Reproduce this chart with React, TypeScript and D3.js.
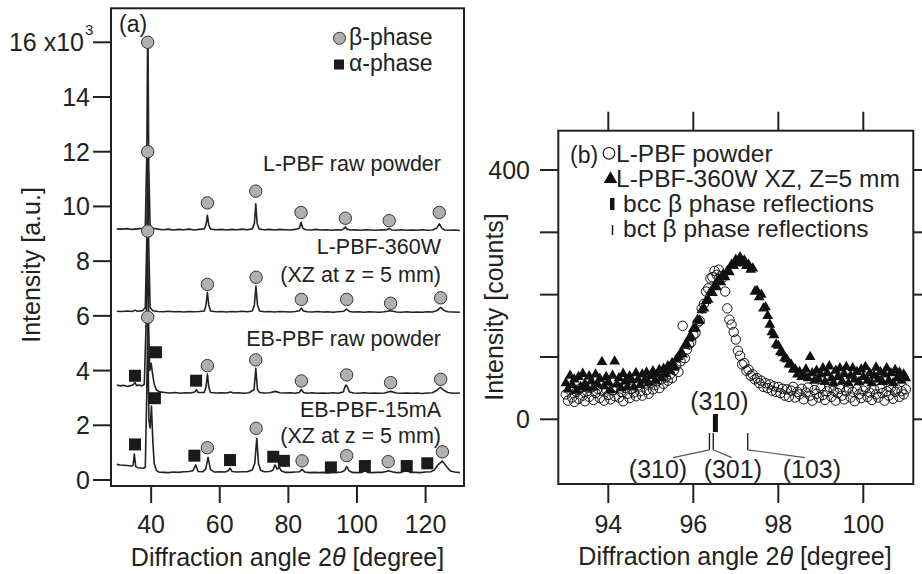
import React from 'react';
import * as d3 from 'd3';

const FONT = "'Liberation Sans', Arial, Helvetica, sans-serif";
const INK = '#222';

// ---------------- Panel (a) data ----------------
const aXTicks = [40, 60, 80, 100, 120];
const aYTicks = [0, 2, 4, 6, 8, 10, 12, 14];
const aYTopLabel = '16 x10';

type P = [number, number];

const lpbfRawPowder: P[] = [[30,9.18],[31.5,9.17],[33,9.19],[34.5,9.16],[36,9.18],[37.5,9.2],[38.3,9.27],[38.75,12.0],[38.95,15.8],[39.1,15.8],[39.3,11.5],[39.7,9.3],[40.5,9.2],[42,9.17],[43.5,9.15],[45,9.17],[46.5,9.14],[48,9.16],[49.5,9.15],[51,9.17],[52.5,9.14],[54,9.16],[55.5,9.18],[56.0,9.32],[56.4,9.68],[56.8,9.32],[57.3,9.17],[59,9.15],[60.5,9.16],[62,9.14],[63.5,9.16],[65,9.15],[66.5,9.17],[68,9.15],[69.5,9.18],[70.1,9.38],[70.5,10.1],[70.9,9.38],[71.5,9.17],[73,9.15],[74.5,9.16],[76,9.14],[77.5,9.16],[79,9.15],[80.5,9.14],[82,9.16],[83.2,9.2],[83.7,9.42],[84.2,9.2],[85,9.15],[86.5,9.14],[88,9.16],[89.5,9.14],[91,9.15],[92.5,9.13],[94,9.15],[95.5,9.14],[96.1,9.18],[96.6,9.25],[97.1,9.17],[98,9.14],[99.5,9.15],[101,9.13],[102.5,9.15],[104,9.14],[105.5,9.13],[107,9.15],[108.5,9.14],[109.4,9.19],[110.2,9.14],[111.5,9.13],[113,9.15],[114.5,9.13],[116,9.14],[117.5,9.13],[119,9.15],[120.5,9.13],[122,9.14],[123.2,9.2],[124.0,9.36],[124.8,9.2],[125.6,9.14],[127,9.13],[128.5,9.14],[130,9.12]];

const lpbf360W: P[] = [[30,6.17],[31.5,6.16],[33,6.18],[34.5,6.16],[35.3,6.21],[36,6.17],[37.5,6.19],[38.3,6.3],[38.7,8.6],[39.0,11.8],[39.3,8.6],[39.7,6.3],[40.5,6.19],[42,6.16],[43.5,6.15],[45,6.17],[46.5,6.15],[48,6.16],[49.5,6.14],[51,6.16],[52.5,6.15],[54,6.16],[55.5,6.18],[56.0,6.4],[56.4,6.86],[56.8,6.4],[57.3,6.18],[59,6.15],[60.5,6.16],[62,6.14],[63.5,6.16],[65,6.15],[66.5,6.17],[68,6.15],[69.5,6.18],[70.1,6.4],[70.55,7.09],[71.0,6.4],[71.6,6.18],[73,6.15],[74.5,6.16],[76,6.14],[77.5,6.16],[79,6.15],[80.5,6.14],[82,6.16],[83.2,6.19],[83.8,6.28],[84.4,6.18],[85.5,6.15],[87,6.14],[88.5,6.16],[90,6.14],[91.5,6.15],[93,6.13],[94.5,6.15],[96.2,6.17],[97.0,6.25],[97.8,6.16],[99,6.14],[100.5,6.15],[102,6.13],[103.5,6.15],[105,6.14],[106.5,6.13],[108,6.15],[109.8,6.19],[111.5,6.14],[113,6.13],[114.5,6.15],[116,6.13],[117.5,6.14],[119,6.13],[120.5,6.15],[122,6.14],[123.4,6.2],[124.4,6.31],[125.4,6.2],[126.5,6.15],[128,6.14],[130,6.13]];

const ebpbfRawPowder: P[] = [[30,3.47],[31,3.44],[32,3.46],[33,3.42],[34,3.45],[34.8,3.48],[35.3,3.56],[35.8,3.45],[36.5,3.47],[37.3,3.44],[38.0,3.5],[38.6,6.0],[38.95,8.8],[39.3,5.5],[39.6,4.0],[40.0,4.27],[40.4,3.9],[40.9,3.5],[41.5,3.3],[42.5,3.22],[44,3.2],[45.5,3.18],[47,3.2],[48.5,3.17],[50,3.19],[51.5,3.18],[52.7,3.22],[53.2,3.3],[53.7,3.2],[55.5,3.2],[56.0,3.4],[56.4,3.87],[56.8,3.4],[57.3,3.2],[59,3.18],[60.5,3.19],[62,3.18],[63.2,3.22],[64,3.18],[65.5,3.19],[67,3.17],[68.5,3.19],[70.0,3.3],[70.5,4.08],[71.0,3.3],[71.6,3.2],[73,3.18],[74.5,3.19],[76.3,3.24],[77.5,3.19],[79,3.18],[80.5,3.19],[82,3.17],[83.2,3.2],[83.8,3.31],[84.4,3.2],[85.5,3.17],[87,3.19],[88.5,3.17],[90,3.18],[91.5,3.17],[93,3.19],[94.5,3.17],[96.0,3.22],[96.5,3.4],[96.8,3.47],[97.2,3.4],[97.8,3.22],[99,3.18],[100.5,3.17],[102,3.19],[103.5,3.17],[105,3.18],[106.5,3.17],[108,3.18],[109.8,3.24],[111.5,3.18],[113,3.17],[114.5,3.18],[116,3.17],[117.5,3.18],[119,3.16],[120.5,3.18],[122,3.19],[123.2,3.27],[124.3,3.39],[125.3,3.28],[126.5,3.2],[128,3.17],[130,3.18]];

const ebpbf15mA: P[] = [[30,0.57],[31,0.55],[32,0.54],[33,0.53],[34,0.51],[34.7,0.52],[35.1,0.95],[35.5,0.5],[36,0.45],[37,0.44],[37.8,0.43],[38.3,0.47],[38.7,3.0],[39.0,5.7],[39.35,2.2],[39.7,1.9],[40.1,2.7],[40.5,1.4],[40.9,0.6],[41.5,0.36],[42.2,0.29],[43.5,0.28],[45,0.27],[46.5,0.29],[48,0.28],[49.5,0.3],[51,0.31],[52.2,0.34],[53.0,0.55],[53.7,0.31],[55,0.3],[55.9,0.4],[56.6,0.83],[57.3,0.38],[58.5,0.29],[60,0.3],[61.5,0.29],[62.4,0.33],[63.0,0.43],[63.6,0.31],[65,0.29],[66.5,0.3],[68,0.3],[69.5,0.37],[70.2,0.6],[70.8,1.52],[71.3,0.6],[71.9,0.36],[73,0.3],[74.5,0.31],[75.5,0.36],[76.1,0.55],[76.7,0.4],[77.4,0.45],[78.0,0.33],[79,0.28],[80.5,0.28],[82,0.29],[83.3,0.3],[84.0,0.39],[84.8,0.29],[86,0.27],[87.5,0.28],[89,0.27],[90.5,0.28],[92,0.27],[93.1,0.31],[94,0.28],[95.5,0.29],[96.4,0.35],[97.0,0.49],[97.7,0.34],[98.5,0.28],[100,0.27],[101.5,0.28],[102.3,0.37],[103.1,0.28],[104.5,0.27],[106,0.28],[107.5,0.28],[108.5,0.31],[109.2,0.34],[110.2,0.3],[111.5,0.27],[113,0.28],[114.5,0.37],[115.5,0.28],[117,0.28],[118.5,0.27],[120,0.29],[121.5,0.3],[122.5,0.36],[123.6,0.55],[124.9,0.69],[126.1,0.49],[127.2,0.33],[128.5,0.29],[130,0.27]];

const aSeries = [lpbfRawPowder, lpbf360W, ebpbfRawPowder, ebpbf15mA];

const betaMarks: P[] = [
  [39.0,16.0],[56.4,10.13],[70.5,10.56],[83.7,9.78],[96.6,9.57],[109.4,9.48],[124.0,9.78],
  [39.0,12.0],[56.4,7.15],[70.6,7.41],[83.8,6.6],[97.0,6.6],[109.8,6.46],[124.4,6.66],
  [39.0,9.1],[56.4,4.18],[70.5,4.39],[83.8,3.62],[97.0,3.84],[109.8,3.56],[124.4,3.68],
  [39.0,5.95],[56.4,1.18],[70.6,1.89],[84.0,0.70],[97.0,0.89],[109.1,0.67],[124.9,1.03],
];
const alphaMarks: P[] = [
  [35.3,3.81],[41.4,4.67],[53.1,3.63],
  [35.3,1.30],[41.1,2.99],[52.6,0.89],[63.0,0.73],[75.6,0.85],[78.7,0.70],[92.4,0.46],[102.3,0.51],[114.5,0.51],[120.5,0.61],
];

const aLabels: { text: string; y: number }[] = [
  { text: 'L-PBF raw powder', y: 11.3 },
  { text: 'L-PBF-360W', y: 8.27 },
  { text: '(XZ at z = 5 mm)', y: 7.25 },
  { text: 'EB-PBF raw powder', y: 4.9 },
  { text: 'EB-PBF-15mA', y: 2.3 },
  { text: '(XZ at z = 5 mm)', y: 1.36 },
];

// ---------------- Panel (b) data ----------------
const bXTicks = [94, 96, 98, 100];
const bYTicks = [0, 100, 200, 300, 400];
const bYLabels = [0, 400];
const bStart = 93.0;
const bStep = 0.05;
const lpbfPowderCounts = [
  40,30,47,35,28,44,33,50,38,29,
  45,36,51,31,42,49,34,46,30,48,
  39,32,47,37,52,35,44,29,50,41,
  34,49,43,37,54,45,38,57,47,41,
  58,48,55,61,50,64,57,67,62,72,
  66,79,86,76,93,150,98,112,120,124,
  135,138,155,158,178,185,205,210,226,228,
  238,232,240,230,228,205,178,160,152,140,
  128,110,102,88,90,78,80,70,72,64,
  66,58,62,52,58,50,56,46,53,44,
  52,42,49,38,48,36,46,52,35,44,
  40,49,32,43,51,38,30,47,41,35,
  50,39,31,45,52,36,46,30,42,49,
  38,32,45,51,35,44,29,48,40,34,
  46,52,36,43,31,49,40,35,50,42,
  30,45,38,51,33,44,48,36,45,40,
  48,
];
const lpbf360WCounts = [
  58,48,70,55,64,46,68,52,73,57,
  49,69,61,51,72,56,65,92,53,68,
  60,47,70,93,56,66,50,73,61,52,
  69,63,51,74,64,55,72,62,75,58,
  70,77,62,72,79,66,81,73,85,78,
  90,84,96,100,106,104,118,120,130,132,
  145,146,160,158,175,178,190,192,204,203,
  214,212,224,220,232,228,238,236,248,246,
  256,250,260,252,255,246,248,240,242,205,
  206,196,200,178,180,166,152,140,135,120,
  118,108,106,98,96,88,88,80,80,72,
  76,68,72,80,66,100,74,62,78,64,
  72,82,60,74,85,66,58,78,68,82,
  61,73,84,58,70,82,64,76,60,80,
  68,84,62,74,58,70,83,64,76,60,
  72,82,62,74,58,79,66,75,62,72,
  66,
];
const bccRefs = [{ hkl: '(310)', angle: 96.52 }];
const bctRefs = [
  { hkl: '(310)', angle: 96.38, labelAngle: 95.17 },
  { hkl: '(301)', angle: 96.47, labelAngle: 96.93 },
  { hkl: '(103)', angle: 97.28, labelAngle: 98.79 },
];

export default function App() {
  const xA = d3.scaleLinear().domain([28.3, 131.2]).range([111, 464]);
  const yA = d3.scaleLinear().domain([0, 16]).range([480, 42.3]);
  const aTop = 8.3, aBottom = 486;
  const lineA = d3.line<P>().x(d => xA(d[0])).y(d => yA(d[1]));

  const xB = d3.scaleLinear().domain([94, 100]).range([608.3, 863.3]);
  const yB = d3.scaleLinear().domain([0, 400]).range([419.3, 170]);
  const bL = 558.3, bR = 913.3, bT = 130.7, bBot = 484;
  const tri = d3.symbol().type(d3.symbolTriangle).size(50)() as string;
  const triLeg = d3.symbol().type(d3.symbolTriangle).size(80)() as string;

  const circlePts = lpbfPowderCounts.map((c, i) => [bStart + i * bStep, c] as P);
  const triPts = lpbf360WCounts.map((c, i) => [bStart + i * bStep, c] as P);

  return (
    <svg width={922} height={574} style={{ position: 'absolute', left: 0, top: 0, background: '#fff' }} fontFamily={FONT}>
      <rect x={0} y={0} width={922} height={574} fill="#fff" />
      {/* ===== Panel (a) ===== */}
      <g>
        {aSeries.map((s, i) => (
          <path key={i} d={lineA(s) || ''} fill="none" stroke={INK} strokeWidth={1.6} strokeLinejoin="round" />
        ))}
        {betaMarks.map((m, i) => (
          <circle key={i} cx={xA(m[0])} cy={yA(m[1])} r={6.2} fill="#b0b0b0" stroke="#333" strokeWidth={1} />
        ))}
        {alphaMarks.map((m, i) => (
          <rect key={i} x={xA(m[0]) - 6} y={yA(m[1]) - 6} width={12} height={12} fill="#1a1a1a" />
        ))}
        <rect x={111} y={aTop} width={464 - 111} height={aBottom - aTop} fill="none" stroke={INK} strokeWidth={2} />
        {[...aYTicks, 16].map(t => (
          <line key={t} x1={93} x2={111} y1={yA(t)} y2={yA(t)} stroke={INK} strokeWidth={2} />
        ))}
        {aYTicks.map(t => (
          <text key={t} x={90} y={yA(t)} dy="0.36em" textAnchor="end" fontSize={25} fill={INK}>{t}</text>
        ))}
        <text x={84} y={yA(16)} dy="0.36em" textAnchor="end" fontSize={25} fill={INK}>{aYTopLabel}</text>
        <text x={85} y={35} fontSize={15} fill={INK}>3</text>
        {aXTicks.map(t => (
          <g key={t}>
            <line x1={xA(t)} x2={xA(t)} y1={aBottom} y2={503} stroke={INK} strokeWidth={2} />
            <text x={xA(t)} y={533} textAnchor="middle" fontSize={25} fill={INK}>{t}</text>
          </g>
        ))}
        <text x={287.5} y={566} textAnchor="middle" fontSize={25} fill={INK}>
          Diffraction angle 2<tspan fontStyle="italic">θ</tspan> [degree]
        </text>
        <text transform="translate(40,265) rotate(-90)" textAnchor="middle" fontSize={25} fill={INK}>Intensity [a.u.]</text>
        <text x={119} y={32} fontSize={23} fill={INK}>(a)</text>
        {aLabels.map((l, i) => (
          <text key={i} x={441} y={yA(l.y)} textAnchor="end" fontSize={21.5} fill={INK}>{l.text}</text>
        ))}
        <circle cx={339.5} cy={38.3} r={6} fill="#b0b0b0" stroke="#333" strokeWidth={1} />
        <text x={349} y={45} fontSize={23} fill={INK}>β-phase</text>
        <rect x={334} y={59.5} width={10} height={10} fill="#1a1a1a" />
        <text x={349} y={71} fontSize={23} fill={INK}>α-phase</text>
      </g>

      {/* ===== Panel (b) ===== */}
      <g>
        {triPts.map((p, i) => (
          <path key={i} d={tri} transform={`translate(${xB(p[0])},${yB(p[1])})`} fill="#111" />
        ))}
        {circlePts.map((p, i) => (
          <circle key={i} cx={xB(p[0])} cy={yB(p[1])} r={4.7} fill="none" stroke="#111" strokeWidth={1} />
        ))}
        <rect x={bL} y={bT} width={bR - bL} height={bBot - bT} fill="none" stroke={INK} strokeWidth={2} />
        {bYTicks.map(t => (
          <g key={t}>
            <line x1={540} x2={bL} y1={yB(t)} y2={yB(t)} stroke={INK} strokeWidth={2} />
            <line x1={bR} x2={bR + 18} y1={yB(t)} y2={yB(t)} stroke={INK} strokeWidth={2} />
          </g>
        ))}
        {bYLabels.map(t => (
          <text key={t} x={530} y={yB(t)} dy="0.36em" textAnchor="end" fontSize={25} fill={INK}>{t}</text>
        ))}
        {bXTicks.map(t => (
          <g key={t}>
            <line x1={xB(t)} x2={xB(t)} y1={bBot} y2={503} stroke={INK} strokeWidth={2} />
            <line x1={xB(t)} x2={xB(t)} y1={bT} y2={111.7} stroke={INK} strokeWidth={2} />
            <text x={xB(t)} y={533} textAnchor="middle" fontSize={25} fill={INK}>{t}</text>
          </g>
        ))}
        <text x={735} y={565} textAnchor="middle" fontSize={25} fill={INK}>
          Diffraction angle 2<tspan fontStyle="italic">θ</tspan> [degree]
        </text>
        <text transform="translate(503,307) rotate(-90)" textAnchor="middle" fontSize={25} fill={INK}>Intensity [counts]</text>

        {bccRefs.map((r, i) => (
          <g key={i}>
            <text x={xB(r.angle) + 4} y={410} textAnchor="middle" fontSize={25} fill={INK}>{r.hkl}</text>
            <rect x={xB(r.angle) - 2.5} y={yB(8.5)} width={5} height={yB(-20.5) - yB(8.5)} fill="#111" />
          </g>
        ))}
        {bctRefs.map((r, i) => (
          <g key={i}>
            <line x1={xB(r.angle)} x2={xB(r.angle)} y1={yB(-22)} y2={yB(-49)} stroke="#222" strokeWidth={1.4} />
            <line x1={xB(r.angle)} x2={xB(r.labelAngle) + (i === 0 ? 15 : i === 1 ? -1 : -7)} y1={yB(-49)} y2={yB(-61.5)} stroke="#555" strokeWidth={1.1} />
            <text x={xB(r.labelAngle)} y={478} textAnchor="middle" fontSize={25} fill={INK}>{r.hkl}</text>
          </g>
        ))}

        <text x={570} y={163} fontSize={23} fill={INK}>(b)</text>
        <circle cx={609} cy={153.3} r={5.8} fill="none" stroke="#111" strokeWidth={1.1} />
        <text x={616} y={162} fontSize={24.5} fill={INK}>L-PBF powder</text>
        <path d={triLeg} transform="translate(610.5,179)" fill="#111" />
        <text x={616} y={186.5} fontSize={24.5} fill={INK}>L-PBF-360W XZ, Z=5 mm</text>
        <rect x={610} y={198} width={4.5} height={12} fill="#111" />
        <text x={623} y={212} fontSize={24.5} fill={INK}>bcc β phase reflections</text>
        <line x1={612.5} x2={612.5} y1={225} y2={235} stroke="#111" strokeWidth={1.4} />
        <text x={623} y={237.3} fontSize={24.5} fill={INK}>bct β phase reflections</text>
      </g>
    </svg>
  );
}
